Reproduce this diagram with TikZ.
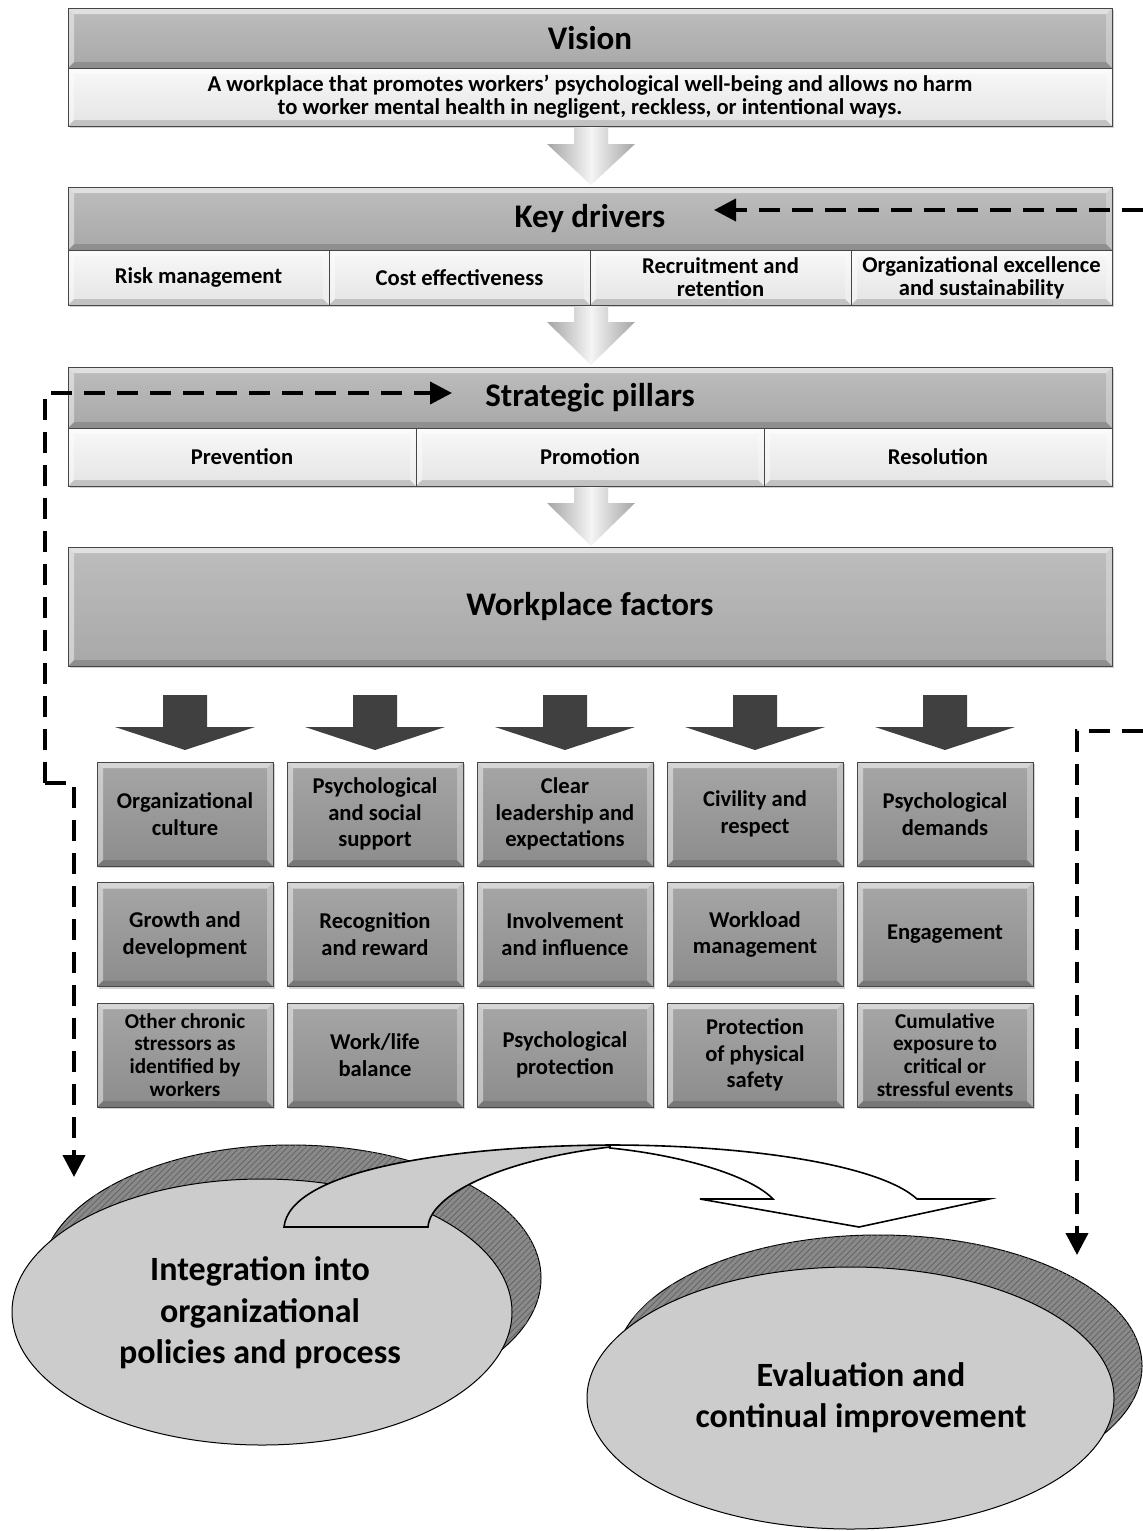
\documentclass[tikz,border=0pt]{standalone}
\usepackage{fontspec}
\setmainfont{Carlito}
\usetikzlibrary{arrows.meta,shadows,patterns,shapes.geometric}
\definecolor{hdrtop}{HTML}{BDBDBD}
\definecolor{hdrbot}{HTML}{A8A8A8}
\definecolor{subtop}{HTML}{F8F8F8}
\definecolor{subbot}{HTML}{E4E4E4}
\definecolor{celltop}{HTML}{A6A6A6}
\definecolor{cellbot}{HTML}{8C8C8C}
\definecolor{darkarrow}{HTML}{404040}
\definecolor{garrow}{HTML}{A4A4A4}
\definecolor{ellfill}{HTML}{CCCCCC}
\definecolor{ellshadow}{HTML}{8A8A8A}
\newcommand{\fhead}{\bfseries\fontsize{16.5}{19.7}\selectfont}
\newcommand{\fvis}{\bfseries\fontsize{11.3}{11.6}\selectfont}
\newcommand{\fsubtxt}{\bfseries\fontsize{11.3}{11.5}\selectfont}
\newcommand{\fcell}{\bfseries\fontsize{11.3}{13.4}\selectfont}
\newcommand{\fcellsm}{\bfseries\fontsize{10.6}{11.4}\selectfont}
\newcommand{\fell}{\bfseries\fontsize{17}{20.7}\selectfont}
\newcommand{\mybevel}[1]{%
  \path (path picture bounding box.north west) coordinate (bNW)
        (path picture bounding box.north east) coordinate (bNE)
        (path picture bounding box.south west) coordinate (bSW)
        (path picture bounding box.south east) coordinate (bSE);
  \fill[white,opacity=0.55] (bNW) -- (bNE) -- ([xshift=-#1,yshift=-#1]bNE) -- ([xshift=#1,yshift=-#1]bNW) -- cycle;
  \fill[white,opacity=0.45] (bNW) -- (bSW) -- ([xshift=#1,yshift=#1]bSW) -- ([xshift=#1,yshift=-#1]bNW) -- cycle;
  \fill[black,opacity=0.15] (bSW) -- (bSE) -- ([xshift=-#1,yshift=#1]bSE) -- ([xshift=#1,yshift=#1]bSW) -- cycle;
  \fill[white,opacity=0.30] (bNE) -- (bSE) -- ([xshift=-#1,yshift=#1]bSE) -- ([xshift=-#1,yshift=-#1]bNE) -- cycle;
}
\tikzset{
  bevel/.style={path picture={\mybevel{#1}}},
  base/.style={draw=gray!55!black, line width=0.4pt, inner sep=0pt, align=center, text=black,
    drop shadow={shadow xshift=1.2pt, shadow yshift=-1.2pt, opacity=0.35}},
  header/.style={base, top color=hdrtop, bottom color=hdrbot, bevel=3pt, font=\fhead, minimum width=522pt},
  subbox/.style={base, top color=subtop, bottom color=subbot, bevel=3pt, font=\fsubtxt},
  cell/.style={base, top color=celltop, bottom color=cellbot, bevel=3pt, minimum width=88pt, minimum height=52pt, font=\fcell},
  dasharrow/.style={line width=2pt, dash pattern=on 10.5pt off 6pt, -{Triangle[length=11pt,width=11pt]}},
  ellnode/.style={ellipse, draw=black, line width=0.5pt, fill=ellfill, inner sep=0pt, align=center, font=\fell},
  elltext/.style={inner sep=0pt, align=center, font=\fell},
  ellback/.style={draw=black, line width=0.5pt, fill=ellshadow},
  ellhatch/.style={pattern=north east lines, pattern color=black!60},
  bigarrowline/.style={draw=black, line width=0.8pt, line join=miter},
}
\begin{document}
\begin{tikzpicture}[x=0.5pt, y=-0.5pt]
\path[use as bounding box, fill=white] (0,0) rectangle (1143,1531);

% ---------- Vision ----------
\node[header, minimum height=30pt] (vision) at (590,38) {Vision};
\node[subbox, minimum width=522pt, minimum height=29pt, font=\fvis] (visionsub) at (590,97)
  {A workplace that promotes workers’ psychological well-being and allows no harm\\to worker mental health in negligent, reckless, or intentional ways.};

% grey arrows
\newcommand{\greyarrow}[4]{%
  \shade[left color=garrow, right color=garrow, middle color=gray!8]
    ({#1-17},#2) -- ({#1+17},#2) -- ({#1+17},#3) -- ({#1+44},#3) -- (#1,#4) -- ({#1-44},#3) -- ({#1-17},#3) -- cycle;}
\greyarrow{591}{127}{144}{185}

% ---------- Key drivers ----------
\node[header, minimum height=31.5pt] (keyd) at (590,218.5) {Key drivers};
\node[subbox, minimum width=130.5pt, minimum height=27.5pt] (kd1) at (198.5,277.5) {Risk management};
\node[subbox, minimum width=130.5pt, minimum height=27.5pt] (kd2) at (459.5,277.5) {Cost effectiveness};
\node[subbox, minimum width=130.5pt, minimum height=27.5pt] (kd3) at (720.5,277.5) {Recruitment and\\retention};
\node[subbox, minimum width=130.5pt, minimum height=27.5pt] (kd4) at (981.5,277.5) {Organizational excellence\\and sustainability};

\greyarrow{591}{306}{322}{365}

% ---------- Strategic pillars ----------
\node[header, minimum height=30.5pt] (strat) at (590,397.5) {Strategic pillars};
\node[subbox, minimum width=174pt, minimum height=29pt] (sp1) at (242,457) {Prevention};
\node[subbox, minimum width=174pt, minimum height=29pt] (sp2) at (590,457) {Promotion};
\node[subbox, minimum width=174pt, minimum height=29pt] (sp3) at (938,457) {Resolution};

\greyarrow{591}{487}{503}{546}

% ---------- Workplace factors ----------
\node[header, minimum height=59.5pt] (wpf) at (590,606.5) {Workplace factors};

% dark arrows
\foreach \c in {185,375,565,755,945}{
  \fill[darkarrow] ({\c-22},695) -- ({\c+22},695) -- ({\c+22},727) -- ({\c+70},727) -- (\c,750) -- ({\c-70},727) -- ({\c-22},727) -- cycle;
}

% grid
\node[cell] (c11) at (185,814) {Organizational\\culture};
\node[cell] (c12) at (375,814) {Psychological\\and social\\support};
\node[cell] (c13) at (565,814) {Clear\\leadership and\\expectations};
\node[cell] (c14) at (755,814) {Civility and\\respect};
\node[cell] (c15) at (945,814) {Psychological\\demands};
\node[cell] (c21) at (185,934.5) {Growth and\\development};
\node[cell] (c22) at (375,934.5) {Recognition\\and reward};
\node[cell] (c23) at (565,934.5) {Involvement\\and influence};
\node[cell] (c24) at (755,934.5) {Workload\\management};
\node[cell] (c25) at (945,934.5) {Engagement};
\node[cell, font=\fcellsm] (c31) at (185,1055) {Other chronic\\stressors as\\identified by\\workers};
\node[cell] (c32) at (375,1055) {Work/life\\balance};
\node[cell] (c33) at (565,1055) {Psychological\\protection};
\node[cell] (c34) at (755,1055) {Protection\\of physical\\safety};
\node[cell, font=\fcellsm] (c35) at (945,1055) {Cumulative\\exposure to\\critical or\\stressful events};

% ---------- ellipses ----------
\path[ellback] (291,1278) ellipse [x radius=125pt, y radius=66.5pt];
\path[ellhatch] (291,1278) ellipse [x radius=125pt, y radius=66.5pt];
\node[ellnode, minimum width=250pt, minimum height=133pt] (integ) at (262,1312) {};
\node[elltext] (integtxt) at (260,1313) {Integration into\\organizational\\policies and process};
\path[ellback] (878.5,1366) ellipse [x radius=131.75pt, y radius=65.5pt];
\path[ellhatch] (878.5,1366) ellipse [x radius=131.75pt, y radius=65.5pt];
\node[ellnode, minimum width=263.5pt, minimum height=131pt] (evalu) at (850.5,1398) {};
\node[elltext] (evaltxt) at (861,1398) {Evaluation and\\continual improvement};

% curved arrow
\path[bigarrowline, fill=white] (610,1145) .. controls (750,1145) and (880,1165) .. (917,1199)
  -- (989,1199) -- (859,1227) -- (700,1199) -- (773,1199)
  .. controls (750,1175) and (680,1155) .. (610,1148) -- cycle;
\path[bigarrowline, fill=ellfill] (284,1227) -- (428,1227)
  .. controls (430,1195) and (500,1160) .. (610,1147)
  -- (610,1145)
  .. controls (450,1146) and (290,1170) .. (284,1227) -- cycle;

% ---------- dashed feedback lines ----------
\coordinate (rtop) at (1143,210);
\coordinate (kdtip) at (714,210);
\draw[dasharrow] (rtop) -- (kdtip);

\coordinate (lcorner) at (45,783);
\coordinate (sptip) at (452,393);
\coordinate (intip) at (74,1177);
\draw[dasharrow] (lcorner) |- (sptip);
\draw[dasharrow] (lcorner) -| (intip);

\coordinate (rlow) at (1143,731);
\coordinate (evtip) at (1077,1255);
\draw[dasharrow] (rlow) -| (evtip);
\end{tikzpicture}
\end{document}
